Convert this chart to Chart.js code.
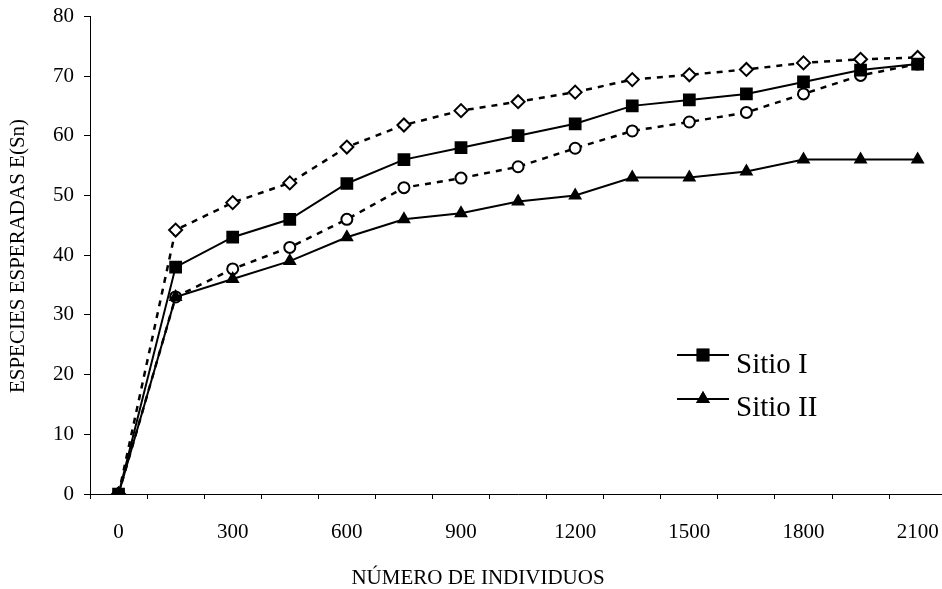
<!DOCTYPE html>
<html>
<head>
<meta charset="utf-8">
<script src="https://cdn.jsdelivr.net/npm/chart.js@4.4.1/dist/chart.umd.min.js"></script>
<style>
  html, body { margin: 0; padding: 0; background: #fff; overflow: hidden; }
  #wrap { width: 942px; height: 589px; overflow: hidden; position: relative; }
  canvas { display: block; }
</style>
</head>
<body>
<div id="wrap"><canvas id="curvas" width="960" height="589"></canvas></div>
<script>
// numero de individuos (categorias del eje x)
const individuos = ['0', '150', '300', '450', '600', '750', '900', '1050', '1200', '1350', '1500', '1650', '1800', '1950', '2100'];

// especies esperadas E(Sn)
const sitioI   = [0, 38, 43, 46, 52, 56, 58, 60, 62, 65, 66, 67, 69, 71, 72];
const sitioII  = [0, 33, 36, 39, 43, 46, 47, 49, 50, 53, 53, 54, 56, 56, 56];
const curvaRombos  = [0, 44.2, 48.8, 52.1, 58.1, 61.8, 64.2, 65.7, 67.3, 69.4, 70.2, 71.1, 72.2, 72.8, 73.1];
const curvaCirculos = [0, 33, 37.7, 41.3, 46, 51.3, 52.9, 54.8, 57.9, 60.8, 62.3, 63.9, 67, 70.1, 72];

const yMin = 0, yMax = 80, yPaso = 10;

const fuente = '"Liberation Serif", "Times New Roman", serif';

// titulos de ejes y leyenda dibujados a mano (posiciones como en el original)
const textos = {
  id: 'textos',
  afterDraw(chart) {
    const ctx = chart.ctx;
    ctx.save();
    ctx.fillStyle = '#000';
    ctx.font = '21px ' + fuente;
    ctx.textAlign = 'center';
    ctx.textBaseline = 'middle';
    ctx.fillText('NÚMERO DE INDIVIDUOS', 478, 578);
    ctx.save();
    ctx.translate(18, 256);
    ctx.rotate(-Math.PI / 2);
    ctx.fillText('ESPECIES ESPERADAS E(Sn)', 0, 0);
    ctx.restore();

    // leyenda: solo Sitio I y Sitio II
    const entradas = [
      { texto: 'Sitio I', estilo: 'rect', radio: 9, y: 355, base: 373 },
      { texto: 'Sitio II', estilo: 'triangle', radio: 8, y: 399, base: 416 }
    ];
    ctx.font = '29px ' + fuente;
    ctx.textAlign = 'left';
    ctx.textBaseline = 'alphabetic';
    entradas.forEach(e => {
      ctx.strokeStyle = '#000';
      ctx.lineWidth = 2;
      ctx.beginPath();
      ctx.moveTo(677, e.y);
      ctx.lineTo(729, e.y);
      ctx.stroke();
      ctx.fillStyle = '#000';
      Chart.helpers.drawPoint(ctx, { pointStyle: e.estilo, radius: e.radio, rotation: 0, borderWidth: 0 }, 703, e.y);
      ctx.fill();
      ctx.fillText(e.texto, 736, e.base);
    });
    ctx.restore();
  }
};

const ctx = document.getElementById('curvas').getContext('2d');

new Chart(ctx, {
  type: 'line',
  data: {
    labels: individuos,
    datasets: [
      {
        label: 'Sitio I',
        data: sitioI,
        borderColor: '#000',
        backgroundColor: '#000',
        borderWidth: 2,
        pointStyle: 'rect',
        pointRadius: 9,
        pointBorderWidth: 0,
        tension: 0
      },
      {
        label: 'Sitio II',
        data: sitioII,
        borderColor: '#000',
        backgroundColor: '#000',
        borderWidth: 2,
        pointStyle: 'triangle',
        pointRadius: 8,
        pointBorderWidth: 0,
        tension: 0
      },
      {
        label: 'rombos',
        data: curvaRombos,
        borderColor: '#000',
        backgroundColor: '#fff',
        borderWidth: 2.5,
        borderDash: [6, 6],
        pointStyle: 'rectRot',
        pointRadius: 6.5,
        pointBorderWidth: 2,
        pointBorderColor: '#000',
        tension: 0
      },
      {
        label: 'circulos',
        data: curvaCirculos,
        borderColor: '#000',
        backgroundColor: '#fff',
        borderWidth: 2.5,
        borderDash: [6, 6],
        pointStyle: 'circle',
        pointRadius: 5.5,
        pointBorderWidth: 2,
        pointBorderColor: '#000',
        tension: 0
      }
    ]
  },
  options: {
    responsive: false,
    animation: false,
    layout: { padding: { top: 15, right: 10.5, left: 0, bottom: 0 } },
    plugins: {
      legend: { display: false },
      tooltip: { enabled: false }
    },
    scales: {
      x: {
        type: 'category',
        offset: true,
        grid: {
          offset: true,
          drawOnChartArea: false,
          drawTicks: true,
          tickLength: 5,
          color: '#000'
        },
        border: { display: true, color: '#000', width: 1 },
        ticks: {
          autoSkip: false,
          maxRotation: 0,
          padding: 21,
          color: '#000',
          font: { family: fuente, size: 21 },
          callback: function (value, index) {
            return index % 2 === 0 ? this.getLabelForValue(value) : '';
          }
        },
        afterFit: function (scale) { scale.height = 95; }
      },
      y: {
        min: yMin,
        max: yMax,
        grid: {
          drawOnChartArea: false,
          drawTicks: true,
          tickLength: 6,
          color: '#000'
        },
        border: { display: true, color: '#000', width: 1 },
        ticks: {
          stepSize: yPaso,
          padding: 10,
          color: '#000',
          font: { family: fuente, size: 21, lineHeight: 0.6 }
        },
        afterFit: function (scale) { scale.width = 90; }
      }
    }
  },
  plugins: [textos]
});
</script>
</body>
</html>
